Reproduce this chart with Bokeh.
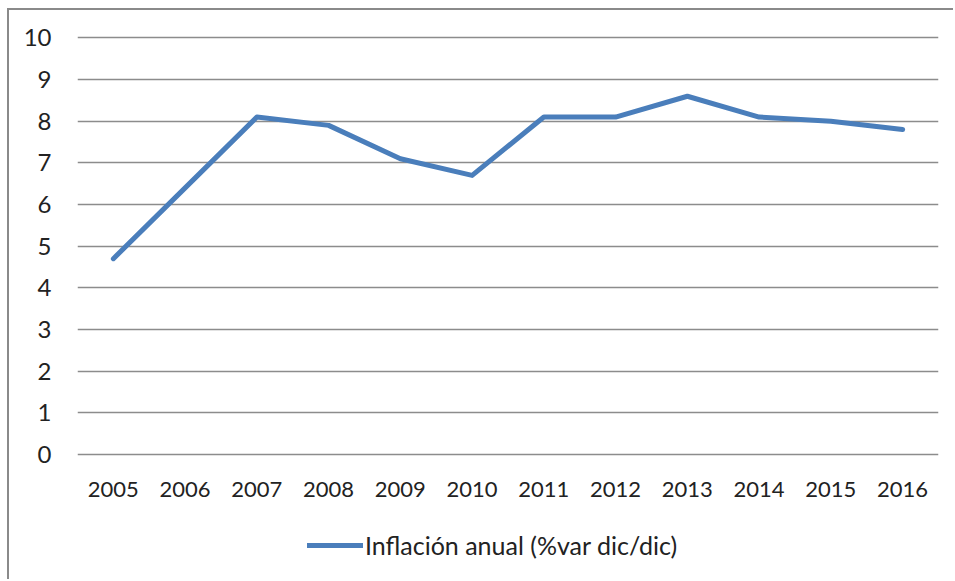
from bokeh.plotting import figure
from bokeh.models import Range1d, FactorRange, Legend, LegendItem, FixedTicker
from bokeh.embed import file_html
from bokeh.resources import INLINE

years = ["2005", "2006", "2007", "2008", "2009", "2010",
         "2011", "2012", "2013", "2014", "2015", "2016"]
inflation = [4.7, 6.4, 8.1, 7.9, 7.1, 6.7, 8.1, 8.1, 8.6, 8.1, 8.0, 7.8]
y_ticks = [0, 1, 2, 3, 4, 5, 6, 7, 8, 9, 10]
series_name = "Inflación anual (%var dic/dic)"

FONT = "Lato"
TEXT = "#222222"
GRID = "#8c8c8c"
BLUE = "#4a7ebb"

p = figure(width=946, height=571, output_backend="svg", toolbar_location=None,
           x_range=FactorRange(factors=years, range_padding=0),
           y_range=Range1d(-3.05, 10.25),
           min_border_left=68, min_border_right=17,
           min_border_top=17, min_border_bottom=0)
p.styles = {"margin-left": "7px", "margin-top": "8px",
            "border-left": "2px solid #8a8a8a", "border-top": "2px solid #8a8a8a"}

p.outline_line_color = None
p.background_fill_color = "white"
p.border_fill_color = "white"

r = p.line(years, inflation, line_color=BLUE, line_width=5, line_join="round", line_cap="round")

p.xgrid.grid_line_color = None
p.ygrid.grid_line_color = GRID
p.ygrid.grid_line_width = 1.5
p.yaxis.ticker = FixedTicker(ticks=y_ticks)

for ax in (p.xaxis[0], p.yaxis[0]):
    ax.axis_line_color = None
    ax.major_tick_line_color = None
    ax.minor_tick_line_color = None
    ax.major_tick_out = 0
    ax.major_tick_in = 0
    ax.major_label_text_font = FONT
    ax.major_label_text_color = TEXT

p.xaxis.fixed_location = -0.2
p.xaxis.major_label_text_font_size = "22px"
p.xaxis.major_label_standoff = 19
p.yaxis.major_label_text_font_size = "24px"
p.yaxis.major_label_standoff = 26

legend = Legend(items=[LegendItem(label=series_name, renderers=[r])],
                location=(230, 21), orientation="horizontal",
                border_line_color=None, background_fill_alpha=0,
                padding=0, margin=0, glyph_width=56, label_standoff=2,
                label_text_font=FONT, label_text_font_size="25px",
                label_text_color=TEXT)
p.add_layout(legend, "center")

open("out.html", "w").write(file_html(p, INLINE))
